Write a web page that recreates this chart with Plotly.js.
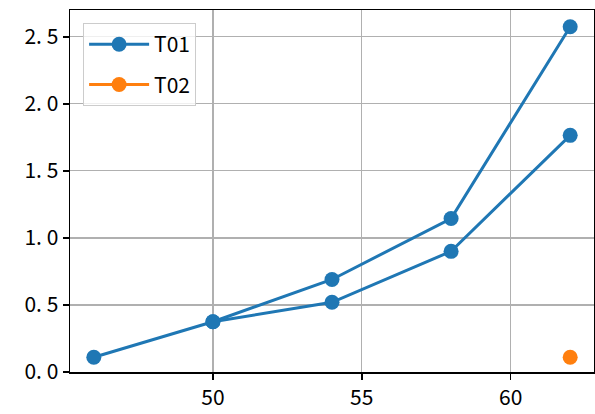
<!DOCTYPE html>
<html>
<head>
<meta charset="utf-8">
<script src="https://cdn.plot.ly/plotly-3.0.1.min.js"></script>
<style>html,body{margin:0;padding:0;background:#fff;}#chart{width:595px;height:414px;}</style>
</head>
<body>
<div id="chart"></div>
<script>
const t01aX = [46, 50, 54, 58, 62];
const t01aY = [0.11, 0.375, 0.69, 1.145, 2.575];
const t01bX = [50, 54, 58, 62];
const t01bY = [0.375, 0.52, 0.90, 1.765];
const t02X = [62];
const t02Y = [0.11];
const yTickVals = [0, 0.5, 1.0, 1.5, 2.0, 2.5];
const yTickText = ['0. 0', '0. 5', '1. 0', '1. 5', '2. 0', '2. 5'];
const xTickVals = [50, 55, 60];
const xTickText = ['50', '55', '60'];

const blue = '#1f77b4', orange = '#ff7f0e';
const font = {family: '"Noto Sans CJK JP", "DejaVu Sans", sans-serif', size: 21, color: '#000'};

const traces = [
  {x: t01aX, y: t01aY, name: 'T01', mode: 'lines+markers', line: {color: blue, width: 3}, marker: {color: blue, size: 15}, legendgroup: 'T01'},
  {x: t01bX, y: t01bY, name: 'T01', mode: 'lines+markers', line: {color: blue, width: 3}, marker: {color: blue, size: 15}, legendgroup: 'T01', showlegend: false},
  {x: t02X, y: t02Y, name: 'T02', mode: 'lines+markers', line: {color: orange, width: 3}, marker: {color: orange, size: 15}}
];

const axisCommon = {
  showline: true, linecolor: '#000', linewidth: 1.5, mirror: true,
  ticks: 'outside', ticklen: 6, tickwidth: 1.5, tickcolor: '#000',
  showgrid: true, gridcolor: '#b0b0b0', gridwidth: 1.2, zeroline: false,
  tickfont: font
};

const layout = {
  width: 595, height: 414,
  margin: {l: 70, r: 1, t: 10, b: 42},
  paper_bgcolor: '#fff', plot_bgcolor: '#fff',
  font: font,
  showlegend: true,
  legend: {x: 0.025, y: 0.964, xanchor: 'left', yanchor: 'top', bordercolor: '#cccccc', borderwidth: 1, bgcolor: 'rgba(255,255,255,0.8)', font: font, itemwidth: 60},
  xaxis: Object.assign({}, axisCommon, {range: [45.2, 62.8], tickvals: xTickVals, ticktext: xTickText}),
  yaxis: Object.assign({}, axisCommon, {range: [0, 2.7], tickvals: yTickVals, ticktext: yTickText})
};

Plotly.newPlot('chart', traces, layout, {displayModeBar: false, staticPlot: true});
</script>
</body>
</html>
